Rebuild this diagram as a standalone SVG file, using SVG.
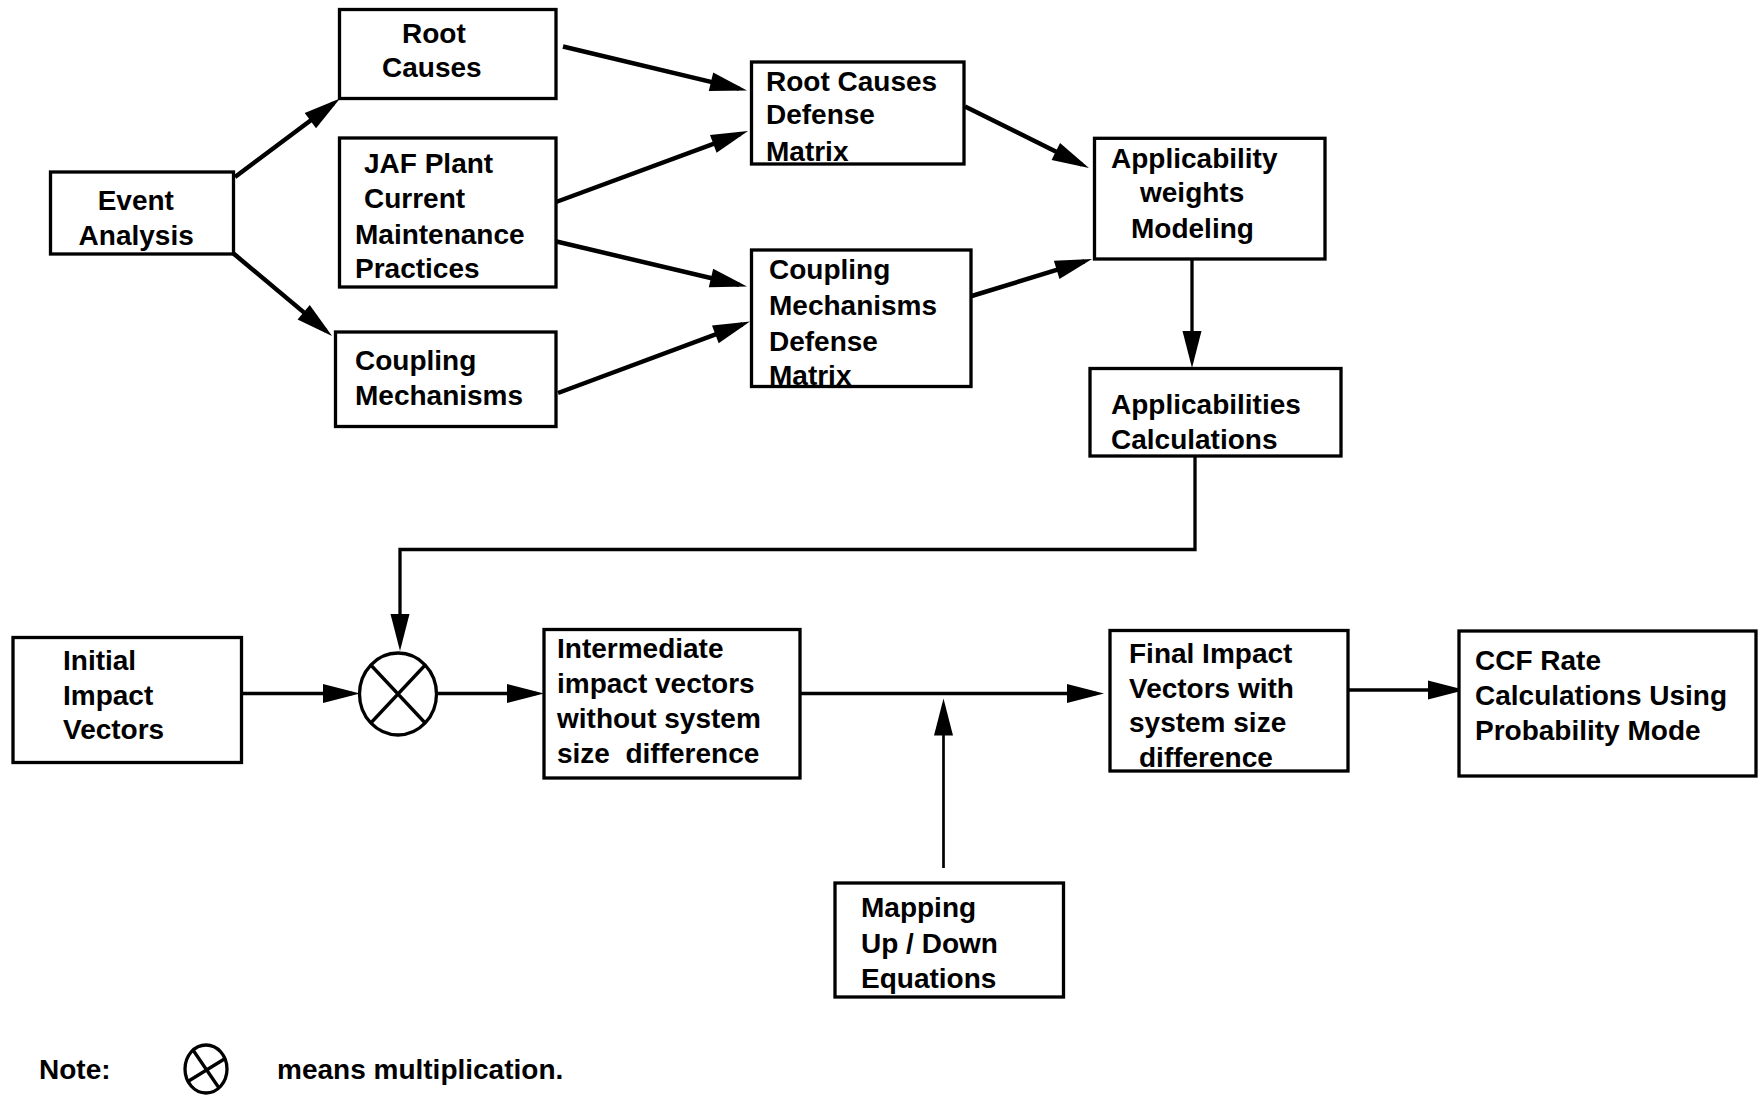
<svg xmlns="http://www.w3.org/2000/svg" width="1761" height="1095" viewBox="0 0 1761 1095">
  <style>
    .box { fill: #fff; stroke: #000; stroke-width: 3.3; }
    .lbl { font-family: "Liberation Sans", Arial, sans-serif; font-weight: bold; font-size: 28px; fill: #000; }
    .wire { fill: none; stroke: #000; stroke-width: 3.3; }
    .wide { stroke-width: 4.5; }
    .thin { stroke-width: 2.7; }
    .arr { marker-end: url(#ah); }
  </style>
  <defs>
    <marker id="ah" markerUnits="userSpaceOnUse" markerWidth="40" markerHeight="20" refX="29" refY="9.5" orient="auto" overflow="visible">
      <path d="M0,0 L37,9.5 L0,19 z" fill="#000"/>
    </marker>
  </defs>
  <rect width="1761" height="1095" fill="#fff"/>

  <!-- connectors -->
  <g id="connectors">
    <path class="wire wide arr" d="M235,177 L333.6,103.3"/>
    <path class="wire wide arr" d="M233.5,253.5 L325.9,330.9"/>
    <path class="wire wide arr" d="M563,46.5 L739.2,88.6"/>
    <path class="wire wide arr" d="M552,203.5 L740.5,133.8"/>
    <path class="wire wide arr" d="M556.5,241.5 L739.2,284.7"/>
    <path class="wire wide arr" d="M558,393 L742.5,324.3"/>
    <path class="wire wide arr" d="M965,106.5 L1081.8,164.4"/>
    <path class="wire wide arr" d="M963.5,298.5 L1084.4,261.4"/>
    <path class="wire arr" d="M1192,253 L1192,360"/>
    <path class="wire arr" d="M1195,456 L1195,549.5 L400,549.5 L400,643"/>
    <path class="wire arr" d="M241.5,693.5 L352,693.5"/>
    <path class="wire arr" d="M437,693.5 L536,693.5"/>
    <path class="wire arr" d="M793,693.5 L1096,693.5"/>
    <path class="wire thin arr" d="M943.5,868 L943.5,706.5"/>
    <path class="wire arr" d="M1347,690 L1457,690"/>
  </g>

  <!-- top row -->
  <g id="event-analysis">
    <rect class="box" x="50.5" y="172" width="183" height="82"/>
    <text class="lbl" x="97.7" y="210">Event</text>
    <text class="lbl" x="78.6" y="245">Analysis</text>
  </g>
  <g id="root-causes">
    <rect class="box" x="339.5" y="9.5" width="216.5" height="89"/>
    <text class="lbl" x="402" y="43">Root</text>
    <text class="lbl" x="382" y="77">Causes</text>
  </g>
  <g id="jaf-practices">
    <rect class="box" x="339.5" y="138" width="216.5" height="149"/>
    <text class="lbl" x="364" y="173">JAF Plant</text>
    <text class="lbl" x="364" y="208">Current</text>
    <text class="lbl" x="355" y="244">Maintenance</text>
    <text class="lbl" x="355" y="278">Practices</text>
  </g>
  <g id="coupling-mechanisms">
    <rect class="box" x="335.5" y="332" width="220.5" height="94.5"/>
    <text class="lbl" x="355" y="370">Coupling</text>
    <text class="lbl" x="355" y="405">Mechanisms</text>
  </g>
  <g id="root-causes-matrix">
    <rect class="box" x="751.5" y="62" width="212.5" height="102"/>
    <text class="lbl" x="766" y="91">Root Causes</text>
    <text class="lbl" x="766" y="124">Defense</text>
    <text class="lbl" x="766" y="161">Matrix</text>
  </g>
  <g id="coupling-matrix">
    <rect class="box" x="751.5" y="250" width="219.5" height="136.5"/>
    <text class="lbl" x="769" y="279">Coupling</text>
    <text class="lbl" x="769" y="315">Mechanisms</text>
    <text class="lbl" x="769" y="351">Defense</text>
    <text class="lbl" x="769" y="385">Matrix</text>
  </g>
  <g id="applicability-weights">
    <rect class="box" x="1094.5" y="138.3" width="230.5" height="120.7"/>
    <text class="lbl" x="1111" y="168">Applicability</text>
    <text class="lbl" x="1140" y="202">weights</text>
    <text class="lbl" x="1131" y="238">Modeling</text>
  </g>
  <g id="applicabilities-calc">
    <rect class="box" x="1090" y="368.5" width="251" height="87.5"/>
    <text class="lbl" x="1111" y="414">Applicabilities</text>
    <text class="lbl" x="1111" y="449">Calculations</text>
  </g>

  <!-- bottom row -->
  <g id="initial-vectors">
    <rect class="box" x="13" y="637.5" width="228.5" height="125"/>
    <text class="lbl" x="63" y="670">Initial</text>
    <text class="lbl" x="63" y="705">Impact</text>
    <text class="lbl" x="63" y="739">Vectors</text>
  </g>
  <g id="multiplier">
    <ellipse cx="398" cy="694" rx="38.5" ry="41" fill="#fff" stroke="#000" stroke-width="3.3"/>
    <path d="M370.8,665 L425.2,723 M425.2,665 L370.8,723" stroke="#000" stroke-width="3.3"/>
  </g>
  <g id="intermediate-vectors">
    <rect class="box" x="544" y="629.5" width="256" height="148.5"/>
    <text class="lbl" x="557" y="658">Intermediate</text>
    <text class="lbl" x="557" y="693">impact vectors</text>
    <text class="lbl" x="557" y="728">without system</text>
    <text class="lbl" x="557" y="763" xml:space="preserve">size  difference</text>
  </g>
  <g id="final-vectors">
    <rect class="box" x="1110" y="630.5" width="238" height="140.5"/>
    <text class="lbl" x="1129" y="663">Final Impact</text>
    <text class="lbl" x="1129" y="698">Vectors with</text>
    <text class="lbl" x="1129" y="732">system size</text>
    <text class="lbl" x="1139" y="767">difference</text>
  </g>
  <g id="ccf-rate">
    <rect class="box" x="1459" y="631" width="297" height="145"/>
    <text class="lbl" x="1475" y="670">CCF Rate</text>
    <text class="lbl" x="1475" y="705">Calculations Using</text>
    <text class="lbl" x="1475" y="740">Probability Mode</text>
  </g>
  <g id="mapping-equations">
    <rect class="box" x="835" y="883" width="228.5" height="114"/>
    <text class="lbl" x="861" y="917">Mapping</text>
    <text class="lbl" x="861" y="953">Up / Down</text>
    <text class="lbl" x="861" y="988">Equations</text>
  </g>

  <!-- legend -->
  <g id="note">
    <text class="lbl" x="39" y="1079">Note:</text>
    <ellipse cx="206" cy="1069" rx="21" ry="24" fill="none" stroke="#000" stroke-width="3.3"/>
    <path d="M193,1050 L219,1088 M187,1082 L226,1058" stroke="#000" stroke-width="3.3"/>
    <text class="lbl" x="277" y="1079">means multiplication.</text>
  </g>
</svg>
